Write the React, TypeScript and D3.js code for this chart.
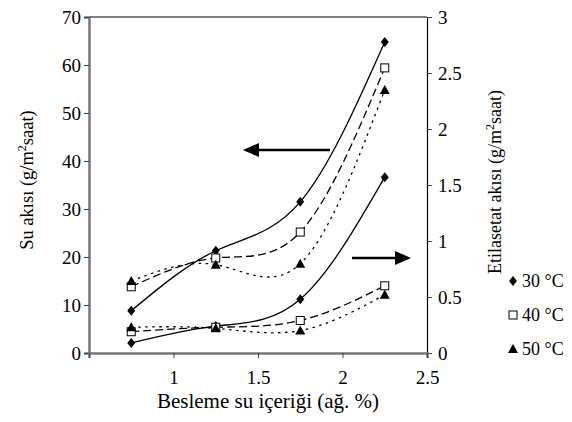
import * as d3 from "d3";
import { useEffect, useRef } from "react";

// feed water content (wt %)
const xValues = [0.75, 1.25, 1.75, 2.25];

// water flux, left axis (g/m2 h)
const water30 = [8.8, 21.3, 31.5, 64.8];
const water40 = [13.8, 19.8, 25.2, 59.4];
const water50 = [15.0, 18.4, 18.6, 54.8];

// ethyl acetate flux, right axis (g/m2 h)
const ea30 = [0.09, 0.24, 0.48, 1.57];
const ea40 = [0.19, 0.23, 0.29, 0.6];
const ea50 = [0.23, 0.22, 0.2, 0.52];

const xTicks = [0.5, 1, 1.5, 2, 2.5];
const leftTicks = [0, 10, 20, 30, 40, 50, 60, 70];
const rightTicks = [0, 0.5, 1, 1.5, 2, 2.5, 3];

const legendLabels = ["30 °C", "40 °C", "50 °C"];

type Series = { values: number[]; axis: "left" | "right"; kind: number };

export default function App() {
  const ref = useRef<SVGSVGElement>(null);

  useEffect(() => {
    const svg = d3.select(ref.current);
    svg.selectAll("*").remove();

    const left = 89,
      right = 427,
      top = 17,
      bottom = 353;
    const font = '"Liberation Serif", "Times New Roman", serif';

    const x = d3.scaleLinear().domain([0.5, 2.5]).range([left, right]);
    const yL = d3.scaleLinear().domain([0, 70]).range([bottom, top]);
    const yR = d3.scaleLinear().domain([0, 3]).range([bottom, top]);

    const dashes = [null, "8,4", "2.5,4.5"];

    const series: Series[] = [
      { values: water30, axis: "left", kind: 0 },
      { values: water40, axis: "left", kind: 1 },
      { values: water50, axis: "left", kind: 2 },
      { values: ea30, axis: "right", kind: 0 },
      { values: ea40, axis: "right", kind: 1 },
      { values: ea50, axis: "right", kind: 2 },
    ];

    // frame top line
    svg
      .append("line")
      .attr("x1", left)
      .attr("x2", right)
      .attr("y1", top)
      .attr("y2", top)
      .attr("stroke", "#000")
      .attr("stroke-width", 1.2);

    // right axis
    const gR = svg.append("g").attr("transform", `translate(${right},0)`);
    gR.call(
      d3
        .axisRight(yR)
        .tickValues(rightTicks)
        .tickSize(5)
        .tickPadding(6)
        .tickFormat((d) => String(d))
    );
    gR.select(".domain").attr("stroke", "#000").attr("stroke-width", 1.2);

    // left axis
    const gL = svg.append("g").attr("transform", `translate(${left},0)`);
    gL.call(
      d3
        .axisLeft(yL)
        .tickValues(leftTicks)
        .tickSize(5)
        .tickPadding(3)
        .tickFormat((d) => String(d))
    );
    gL.select(".domain").attr("stroke", "#777").attr("stroke-width", 2.5);

    // bottom axis
    const gB = svg.append("g").attr("transform", `translate(0,${bottom})`);
    gB.call(
      d3
        .axisBottom(x)
        .tickValues(xTicks)
        .tickSize(5)
        .tickFormat((d) => (d === 0.5 ? "" : String(d)))
    );
    gB.select(".domain").attr("stroke", "#777").attr("stroke-width", 2.5);

    [gL, gR, gB].forEach((g) => {
      g.attr("font-family", font).attr("font-size", 19);
      g.selectAll("text").attr("fill", "#000");
      g.selectAll(".tick line").attr("stroke", "#444");
    });
    gB.selectAll("text").attr("dy", "1.2em");
    gL.selectAll("text").attr("dy", "0.35em");

    // curves
    const lineL = d3
      .line<number>()
      .x((_, i) => x(xValues[i]))
      .y((d) => yL(d))
      .curve(d3.curveNatural);
    const lineR = d3
      .line<number>()
      .x((_, i) => x(xValues[i]))
      .y((d) => yR(d))
      .curve(d3.curveNatural);

    series.forEach((s) => {
      svg
        .append("path")
        .attr("d", (s.axis === "left" ? lineL : lineR)(s.values))
        .attr("fill", "none")
        .attr("stroke", "#000")
        .attr("stroke-width", 1.3)
        .attr("stroke-dasharray", dashes[s.kind]);
    });

    const drawMarker = (
      g: d3.Selection<SVGGElement, unknown, null, undefined>,
      kind: number,
      cx: number,
      cy: number
    ) => {
      if (kind === 0) {
        g.append("path")
          .attr("d", `M${cx},${cy - 5}L${cx + 4},${cy}L${cx},${cy + 5}L${cx - 4},${cy}Z`)
          .attr("fill", "#000");
      } else if (kind === 1) {
        g.append("rect")
          .attr("x", cx - 4)
          .attr("y", cy - 4)
          .attr("width", 8)
          .attr("height", 8)
          .attr("fill", "#fff")
          .attr("stroke", "#000")
          .attr("stroke-width", 1);
      } else {
        g.append("path")
          .attr("d", `M${cx},${cy - 5}L${cx + 5},${cy + 4}L${cx - 5},${cy + 4}Z`)
          .attr("fill", "#000");
      }
    };

    const gm = svg.append("g");
    series.forEach((s) => {
      const sy = s.axis === "left" ? yL : yR;
      s.values.forEach((v, i) => drawMarker(gm, s.kind, x(xValues[i]), sy(v)));
    });

    // arrows
    const arrows = svg.append("g");
    arrows
      .append("line")
      .attr("x1", 330)
      .attr("x2", 256)
      .attr("y1", 150)
      .attr("y2", 150)
      .attr("stroke", "#000")
      .attr("stroke-width", 2.5);
    arrows.append("path").attr("d", "M243,150L259,143L259,157Z").attr("fill", "#000");
    arrows
      .append("line")
      .attr("x1", 352)
      .attr("x2", 398)
      .attr("y1", 258)
      .attr("y2", 258)
      .attr("stroke", "#000")
      .attr("stroke-width", 2.5);
    arrows.append("path").attr("d", "M411,258L395,251L395,265Z").attr("fill", "#000");

    const txt = svg.append("g").attr("font-family", font).attr("fill", "#000");

    // axis titles
    txt
      .append("text")
      .attr("transform", `translate(33,180) rotate(-90)`)
      .attr("text-anchor", "middle")
      .attr("font-size", 18.5)
      .html('Su akısı (g/m<tspan dy="-7" font-size="12">2</tspan><tspan dy="7">saat)</tspan>');
    txt
      .append("text")
      .attr("transform", `translate(501,182) rotate(-90)`)
      .attr("text-anchor", "middle")
      .attr("font-size", 18)
      .html(
        'Etilasetat akısı (g/m<tspan dy="-7" font-size="12">2</tspan><tspan dy="7">saat)</tspan>'
      );
    txt
      .append("text")
      .attr("x", 268)
      .attr("y", 408)
      .attr("text-anchor", "middle")
      .attr("font-size", 21)
      .text("Besleme su içeriği (ağ. %)");

    // legend
    const lg = svg.append("g");
    legendLabels.forEach((label, i) => {
      const ly = [281, 315, 349][i];
      drawMarker(lg, i, 513, ly);
      txt
        .append("text")
        .attr("x", 522)
        .attr("y", ly + 6)
        .attr("font-size", 18)
        .text(label);
    });
  }, []);

  return (
    <svg
      ref={ref}
      width={572}
      height={422}
      viewBox="0 0 572 422"
      style={{ position: "absolute", left: 0, top: 0, background: "#fff" }}
    />
  );
}
